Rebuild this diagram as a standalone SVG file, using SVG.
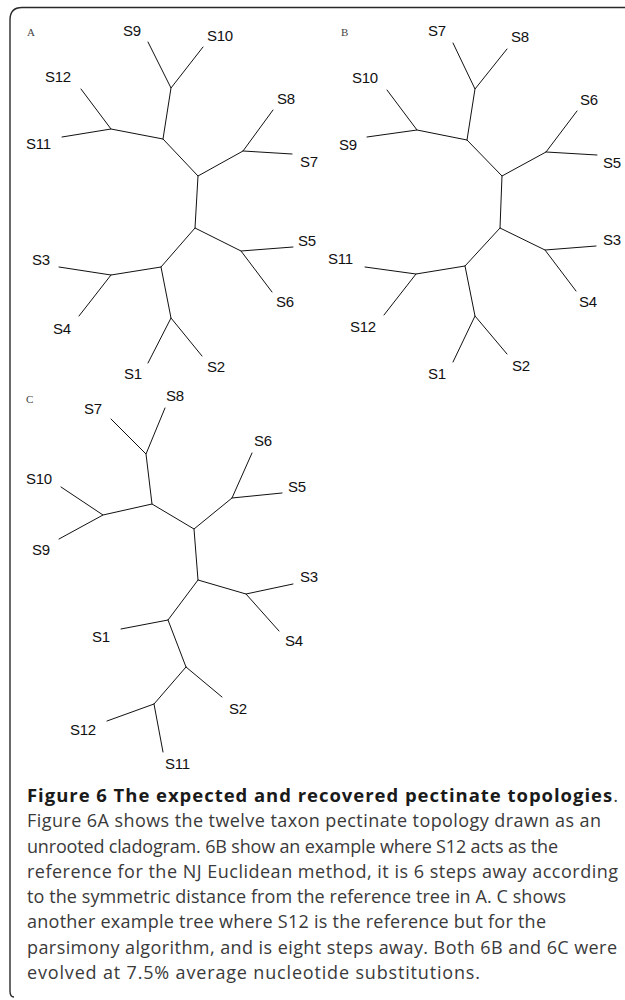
<svg xmlns="http://www.w3.org/2000/svg" width="625" height="1000" viewBox="0 0 625 1000">
<style>
.bg{fill:#fff}
.frame{fill:none;stroke:#2a2a2a;stroke-width:1.4}
.edge{stroke:#111;stroke-width:1;fill:none;stroke-linecap:round}
.lbl{font-family:"Liberation Sans",Arial,sans-serif;font-size:15px;fill:#111;letter-spacing:-0.3px}
.pan{font-family:"Liberation Serif","Times New Roman",serif;font-size:11px;fill:#444}
.cap{font-family:"Open Sans","Noto Sans",sans-serif;font-size:18px;fill:#3a3a3a}
.capt{font-size:18.5px}
.capb{font-weight:bold;fill:#1a1a1a}
</style>
<rect class="bg" x="0" y="0" width="625" height="1000"/>
<path class="frame" d="M14,997 Q10,997 10,991 L10,20 Q10,7.5 22,7.5 L625,7.5"/>

<g id="connectors">
<!-- Tree A -->
<path class="edge" d="M148,42L171,88L203,47M171,88L163,139M81,89L111,129L62,137M111,129L163,139L198,176L243,151L273,110M243,151L292,154M198,176L195,228L241,251L293,247M241,251L272,292M195,228L161,267L111,275L59,267M111,275L79,316M161,267L171,318L148,363M171,318L202,356"/>
<!-- Tree B -->
<path class="edge" d="M453,43L475,89L507,49M475,89L467,140M387,90L417,130L367,137M417,130L467,140L502,176L546,152L577,111M546,152L597,155M502,176L500,228L545,250L596,246M545,250L576,291M500,228L465,266L416,274L365,267M416,274L384,315M465,266L475,316L453,362M475,316L507,354"/>
<!-- Tree C -->
<path class="edge" d="M111,419L146,454L165,408M146,454L152,504M61,487L103,515L59,539M103,515L152,504L194,529L232,498L252,453M232,498L282,493M194,529L198,580L246,594L293,584M246,594L279,631M198,580L168,620L121,629M168,620L186,667L222,697M186,667L154,704L107,721M154,704L163,752"/>
</g>

<g id="panelA">
<text class="pan" x="27" y="36">A</text>
<g id="A-S9"><text class="lbl" x="123" y="36">S9</text></g>
<g id="A-S10"><text class="lbl" x="207" y="41">S10</text></g>
<g id="A-S12"><text class="lbl" x="45" y="82">S12</text></g>
<g id="A-S11"><text class="lbl" x="26" y="149">S11</text></g>
<g id="A-S8"><text class="lbl" x="277" y="104">S8</text></g>
<g id="A-S7"><text class="lbl" x="300" y="167">S7</text></g>
<g id="A-S5"><text class="lbl" x="298" y="246">S5</text></g>
<g id="A-S6"><text class="lbl" x="276" y="307">S6</text></g>
<g id="A-S3"><text class="lbl" x="32" y="265">S3</text></g>
<g id="A-S4"><text class="lbl" x="53" y="334">S4</text></g>
<g id="A-S1"><text class="lbl" x="124" y="379">S1</text></g>
<g id="A-S2"><text class="lbl" x="207" y="372">S2</text></g>
</g>

<g id="panelB">
<text class="pan" x="341" y="36">B</text>
<g id="B-S7"><text class="lbl" x="428" y="36">S7</text></g>
<g id="B-S8"><text class="lbl" x="511" y="42">S8</text></g>
<g id="B-S10"><text class="lbl" x="352" y="83">S10</text></g>
<g id="B-S9"><text class="lbl" x="339" y="150">S9</text></g>
<g id="B-S6"><text class="lbl" x="580" y="105">S6</text></g>
<g id="B-S5"><text class="lbl" x="603" y="168">S5</text></g>
<g id="B-S3"><text class="lbl" x="603" y="245">S3</text></g>
<g id="B-S4"><text class="lbl" x="579" y="307">S4</text></g>
<g id="B-S11"><text class="lbl" x="328" y="264">S11</text></g>
<g id="B-S12"><text class="lbl" x="350" y="332">S12</text></g>
<g id="B-S1"><text class="lbl" x="428" y="379">S1</text></g>
<g id="B-S2"><text class="lbl" x="512" y="371">S2</text></g>
</g>

<g id="panelC">
<text class="pan" x="26" y="403">C</text>
<g id="C-S7"><text class="lbl" x="84" y="414">S7</text></g>
<g id="C-S8"><text class="lbl" x="166" y="401">S8</text></g>
<g id="C-S10"><text class="lbl" x="26" y="484">S10</text></g>
<g id="C-S9"><text class="lbl" x="32" y="555">S9</text></g>
<g id="C-S6"><text class="lbl" x="254" y="446">S6</text></g>
<g id="C-S5"><text class="lbl" x="288" y="492">S5</text></g>
<g id="C-S3"><text class="lbl" x="300" y="582">S3</text></g>
<g id="C-S4"><text class="lbl" x="285" y="646">S4</text></g>
<g id="C-S1"><text class="lbl" x="92" y="642">S1</text></g>
<g id="C-S2"><text class="lbl" x="229" y="714">S2</text></g>
<g id="C-S12"><text class="lbl" x="70" y="735">S12</text></g>
<g id="C-S11"><text class="lbl" x="165" y="769">S11</text></g>
</g>

<g id="caption">
<text class="cap capt" x="27" y="802" textLength="591" lengthAdjust="spacing"><tspan class="capb">Figure 6 The expected and recovered pectinate topologies</tspan>.</text>
<text class="cap" x="27" y="827" textLength="574" lengthAdjust="spacing">Figure 6A shows the twelve taxon pectinate topology drawn as an</text>
<text class="cap" x="27" y="852.5" textLength="531" lengthAdjust="spacing">unrooted cladogram. 6B show an example where S12 acts as the</text>
<text class="cap" x="27" y="878" textLength="591" lengthAdjust="spacing">reference for the NJ Euclidean method, it is 6 steps away according</text>
<text class="cap" x="27" y="903" textLength="539" lengthAdjust="spacing">to the symmetric distance from the reference tree in A. C shows</text>
<text class="cap" x="27" y="928" textLength="519" lengthAdjust="spacing">another example tree where S12 is the reference but for the</text>
<text class="cap" x="27" y="954" textLength="590" lengthAdjust="spacing">parsimony algorithm, and is eight steps away. Both 6B and 6C were</text>
<text class="cap" x="27" y="979" textLength="453" lengthAdjust="spacing">evolved at 7.5% average nucleotide substitutions.</text>
</g>
</svg>
